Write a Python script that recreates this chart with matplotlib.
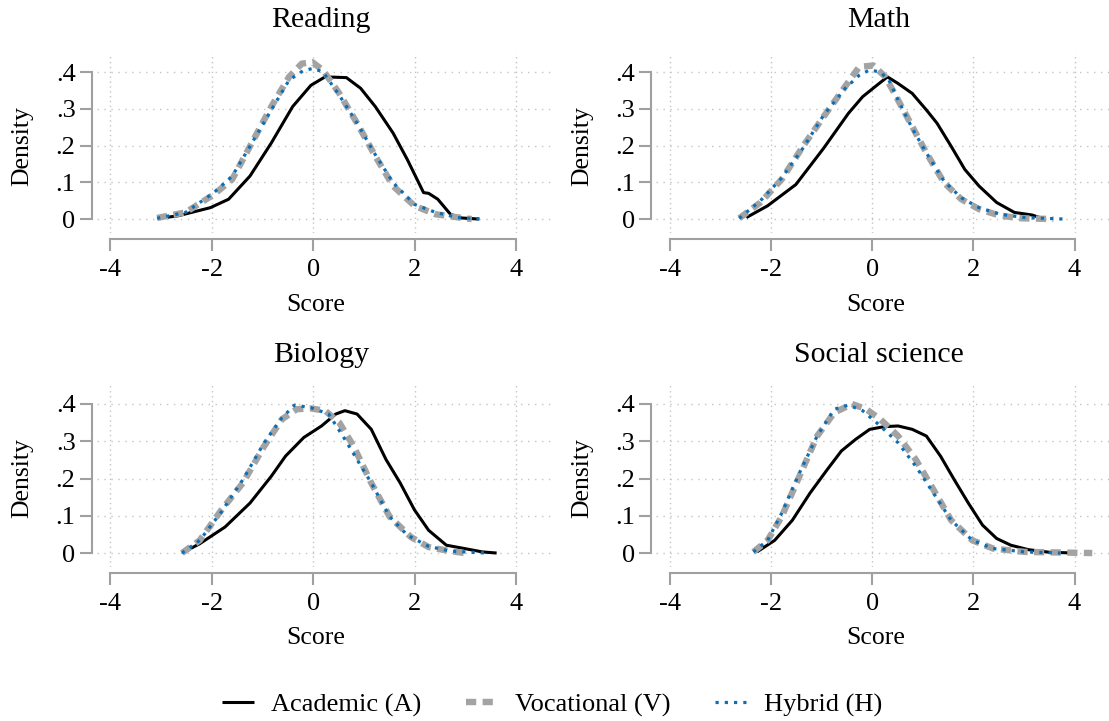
import matplotlib
matplotlib.use('Agg')
import matplotlib.pyplot as plt
from matplotlib.lines import Line2D

plt.rcParams['font.family'] = ['Liberation Serif', 'DejaVu Serif']

# ---------------- data ----------------
subjects = ["Reading", "Math", "Biology", "Social science"]
groups = ["Academic (A)", "Vocational (V)", "Hybrid (H)"]

read_a_x = [-2.87, -2.66, -2.03, -1.67, -1.25, -0.83, -0.41, -0.05, 0.23, 0.65, 0.93, 1.22, 1.57, 1.85, 2.17, 2.27, 2.45, 2.70, 2.91, 3.26]
read_a_y = [0.005, 0.009, 0.031, 0.054, 0.117, 0.207, 0.306, 0.364, 0.387, 0.385, 0.356, 0.306, 0.234, 0.162, 0.072, 0.070, 0.054, 0.013, 0.003, 0.0]
read_v_x = [-3.08, -2.52, -1.96, -1.60, -1.25, -0.83, -0.48, -0.23, -0.02, 0.19, 0.51, 0.86, 1.22, 1.57, 1.99, 2.41, 2.98, 3.12]
read_v_y = [0.003, 0.018, 0.067, 0.108, 0.198, 0.306, 0.387, 0.423, 0.427, 0.405, 0.342, 0.261, 0.171, 0.090, 0.036, 0.013, 0.002, 0.0]
read_h_x = [-3.08, -2.52, -1.96, -1.60, -1.25, -0.83, -0.48, -0.19, 0.0, 0.19, 0.51, 0.86, 1.22, 1.57, 1.99, 2.41, 2.84, 3.30]
read_h_y = [0.002, 0.018, 0.072, 0.117, 0.198, 0.297, 0.378, 0.405, 0.410, 0.400, 0.337, 0.261, 0.175, 0.099, 0.040, 0.018, 0.004, 0.0]

math_a_x = [-2.49, -2.07, -1.51, -0.96, -0.47, -0.19, 0.09, 0.30, 0.51, 0.79, 1.07, 1.28, 1.56, 1.83, 2.11, 2.46, 2.81, 3.16, 3.40]
math_a_y = [0.004, 0.036, 0.094, 0.193, 0.288, 0.333, 0.364, 0.387, 0.369, 0.342, 0.297, 0.261, 0.198, 0.135, 0.090, 0.045, 0.018, 0.011, 0.0]
math_v_x = [-2.63, -2.21, -1.79, -1.37, -0.96, -0.54, -0.26, 0.02, 0.26, 0.51, 0.79, 1.07, 1.42, 1.76, 2.11, 2.53, 2.95, 3.58]
math_v_y = [0.002, 0.045, 0.108, 0.198, 0.279, 0.360, 0.414, 0.418, 0.387, 0.324, 0.252, 0.180, 0.099, 0.054, 0.027, 0.009, 0.002, 0.0]
math_h_x = [-2.63, -2.21, -1.79, -1.37, -0.96, -0.54, -0.26, -0.05, 0.16, 0.33, 0.51, 0.79, 1.07, 1.42, 1.76, 2.11, 2.53, 3.02, 3.79]
math_h_y = [0.002, 0.050, 0.112, 0.193, 0.283, 0.355, 0.391, 0.406, 0.400, 0.378, 0.324, 0.247, 0.180, 0.103, 0.058, 0.031, 0.013, 0.004, 0.0]

bio_a_x = [-2.55, -2.24, -1.74, -1.25, -0.83, -0.55, -0.19, 0.16, 0.44, 0.62, 0.86, 1.14, 1.43, 1.71, 1.99, 2.27, 2.62, 2.98, 3.33, 3.61]
bio_a_y = [0.003, 0.025, 0.070, 0.134, 0.206, 0.260, 0.310, 0.341, 0.373, 0.382, 0.373, 0.332, 0.251, 0.188, 0.116, 0.061, 0.021, 0.012, 0.003, 0.0]
bio_v_x = [-2.59, -2.24, -1.81, -1.39, -0.97, -0.62, -0.33, -0.05, 0.23, 0.51, 0.79, 1.14, 1.50, 1.92, 2.27, 2.70, 2.98]
bio_v_y = [0.0, 0.034, 0.116, 0.188, 0.287, 0.359, 0.386, 0.388, 0.382, 0.350, 0.287, 0.188, 0.098, 0.043, 0.016, 0.005, 0.0]
bio_h_x = [-2.59, -2.24, -1.81, -1.39, -0.97, -0.62, -0.37, -0.05, 0.30, 0.58, 0.86, 1.14, 1.50, 1.85, 2.27, 2.70, 3.40]
bio_h_y = [0.0, 0.034, 0.111, 0.197, 0.296, 0.363, 0.397, 0.390, 0.373, 0.314, 0.251, 0.188, 0.098, 0.048, 0.018, 0.005, 0.0]

soc_a_x = [-2.28, -1.93, -1.58, -1.23, -0.89, -0.61, -0.33, -0.05, 0.23, 0.51, 0.79, 1.07, 1.35, 1.62, 1.90, 2.18, 2.46, 2.74, 3.09, 3.51, 4.03]
soc_a_y = [0.003, 0.034, 0.088, 0.161, 0.224, 0.274, 0.305, 0.332, 0.339, 0.341, 0.332, 0.314, 0.260, 0.197, 0.134, 0.075, 0.039, 0.021, 0.009, 0.002, 0.0]
soc_v_x = [-2.35, -2.07, -1.79, -1.44, -1.09, -0.75, -0.40, -0.12, 0.16, 0.51, 0.86, 1.21, 1.56, 1.98, 2.39, 3.02, 4.35]
soc_v_y = [0.003, 0.034, 0.098, 0.206, 0.314, 0.377, 0.400, 0.386, 0.359, 0.314, 0.251, 0.170, 0.088, 0.034, 0.012, 0.003, 0.0]
soc_h_x = [-2.35, -2.07, -1.79, -1.44, -1.09, -0.75, -0.47, -0.19, 0.16, 0.51, 0.86, 1.21, 1.56, 1.98, 2.39, 3.02, 3.72]
soc_h_y = [0.003, 0.034, 0.107, 0.215, 0.314, 0.386, 0.397, 0.382, 0.341, 0.296, 0.233, 0.161, 0.088, 0.034, 0.012, 0.003, 0.0]

x_ticks = [-4, -2, 0, 2, 4]
x_ticklabels = ["-4", "-2", "0", "2", "4"]
y_ticks = [0, 0.1, 0.2, 0.3, 0.4]
y_ticklabels = ["0", ".1", ".2", ".3", ".4"]

panels = [
    (subjects[0], [(read_a_x, read_a_y), (read_v_x, read_v_y), (read_h_x, read_h_y)]),
    (subjects[1], [(math_a_x, math_a_y), (math_v_x, math_v_y), (math_h_x, math_h_y)]),
    (subjects[2], [(bio_a_x, bio_a_y), (bio_v_x, bio_v_y), (bio_h_x, bio_h_y)]),
    (subjects[3], [(soc_a_x, soc_a_y), (soc_v_x, soc_v_y), (soc_h_x, soc_h_y)]),
]

# ---------------- styling ----------------
W, H = 1109, 721
fig = plt.figure(figsize=(W / 100, H / 100), dpi=100)

AXIS_GRAY = '#a0a0a0'
GRID_GRAY = '#c4c4c4'
styles = [
    dict(color='black', lw=2.2, linestyle='-', solid_capstyle='butt', solid_joinstyle='round'),
    dict(color='#a3a3a3', lw=4.6, linestyle=(0, (1.6, 1.0)), dash_capstyle='butt'),
    dict(color='#0c6fb5', lw=2.3, linestyle=(0, (1.0, 1.9)), dash_capstyle='butt'),
]

def rect(l, r, t, b):
    return [l / W, 1 - b / H, (r - l) / W, (b - t) / H]

rects = [
    rect(96.7, 555, 53, 233),
    rect(656.3, 1113, 53, 233),
    rect(96.7, 555, 384.6, 567.2),
    rect(656.3, 1113, 384.6, 567.2),
]
title_pos = [(321, 20), (879, 20), (321, 355), (879, 355)]
dens_pos = [(22, 146), (582, 146), (22, 478), (582, 478)]
score_pos = [(316, 305), (876, 305), (316, 638), (876, 638)]

for (name, series), rc, tp, dp, sp in zip(panels, rects, title_pos, dens_pos, score_pos):
    ax = fig.add_axes(rc)
    ax.set_xlim(-4.27, 4.76)
    ax.set_ylim(-0.038, 0.452)
    ax.patch.set_alpha(0)
    for xv in x_ticks:
        ax.axvline(xv, color=GRID_GRAY, lw=1.0, linestyle=(0, (1, 2.5)), zorder=0)
    for yv in y_ticks:
        ax.axhline(yv, color=GRID_GRAY, lw=1.0, linestyle=(0, (1, 4)), zorder=0)
    for (xs, ys), st in zip(series, styles):
        ax.plot(xs, ys, **st, zorder=2)
    for s in ['top', 'right']:
        ax.spines[s].set_visible(False)
    ax.spines['left'].set_position(('outward', 3.6))
    ax.spines['bottom'].set_position(('outward', 4.3))
    ax.spines['left'].set_bounds(0, 0.4)
    ax.spines['bottom'].set_bounds(-4, 4)
    for s in ['left', 'bottom']:
        ax.spines[s].set_color(AXIS_GRAY)
        ax.spines[s].set_linewidth(1.5)
    ax.set_xticks(x_ticks)
    ax.set_xticklabels(x_ticklabels)
    ax.set_yticks(y_ticks)
    ax.set_yticklabels(y_ticklabels)
    ax.tick_params(axis='both', length=8.6, width=1.5, color=AXIS_GRAY,
                   labelsize=19, labelcolor='black')
    ax.tick_params(axis='x', pad=6.0)
    ax.tick_params(axis='y', pad=3.0)
    fig.text(tp[0] / W, 1 - tp[1] / H, name, ha='center', va='center', fontsize=21.5)
    fig.text(dp[0] / W, 1 - dp[1] / H, 'Density', ha='center', va='center',
             rotation=90, fontsize=18.5)
    fig.text(sp[0] / W, 1 - sp[1] / H, 'Score', ha='center', va='center', fontsize=18.5)

handles = [Line2D([0], [0], **st) for st in styles]
fig.legend(handles, groups, loc='center', bbox_to_anchor=(552 / W, 1 - 705 / H),
           ncol=3, frameon=False, fontsize=19, handlelength=1.2,
           handletextpad=0.65, columnspacing=1.7)

fig.savefig('out.png', dpi=100)
